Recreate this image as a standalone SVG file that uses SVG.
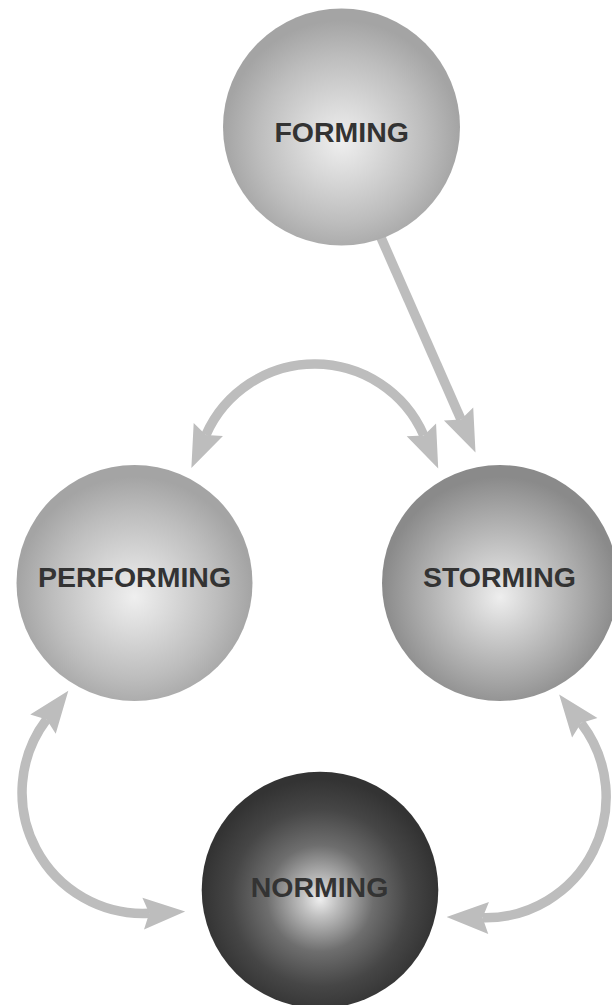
<svg xmlns="http://www.w3.org/2000/svg" width="612" height="1005" viewBox="0 0 612 1005">
  <style>
    .conn { fill: none; stroke: #bdbdbd; stroke-width: 9.5; }
    .label { font-family: "Liberation Sans", Arial, Helvetica, sans-serif; font-weight: bold; font-size: 28.5px; fill: #333333; text-anchor: middle; }
  </style>
  <defs>
    <marker id="head" markerUnits="userSpaceOnUse" viewBox="-8 -18 46 36" refX="0" refY="0" markerWidth="46" markerHeight="36" orient="auto-start-reverse">
      <path d="M0,0 L-6,-16 L36,0 L-6,16 Z" fill="#bdbdbd"/>
    </marker>
    <radialGradient id="gLight" cx="0.5" cy="0.55" r="0.5" fx="0.5" fy="0.56">
      <stop offset="0" stop-color="#efefef"/>
      <stop offset="0.3" stop-color="#dadada"/>
      <stop offset="0.7" stop-color="#bdbdbd"/>
      <stop offset="1" stop-color="#a4a4a4"/>
    </radialGradient>
    <radialGradient id="gMid" cx="0.5" cy="0.55" r="0.5" fx="0.5" fy="0.56">
      <stop offset="0" stop-color="#eeeeee"/>
      <stop offset="0.3" stop-color="#cfcfcf"/>
      <stop offset="0.7" stop-color="#a8a8a8"/>
      <stop offset="1" stop-color="#8a8a8a"/>
    </radialGradient>
    <radialGradient id="gDark" cx="0.5" cy="0.53" r="0.5" fx="0.5" fy="0.54">
      <stop offset="0" stop-color="#eeeeee"/>
      <stop offset="0.15" stop-color="#c0c0c0"/>
      <stop offset="0.45" stop-color="#6e6e6e"/>
      <stop offset="0.75" stop-color="#464646"/>
      <stop offset="1" stop-color="#333333"/>
    </radialGradient>
  </defs>

  <g id="connectors">
    <path class="conn" d="M378.5,232 L461,419.5" marker-end="url(#head)"/>
    <path class="conn" d="M205.9,435 A119 119 0 0 1 423.8,435.4" marker-start="url(#head)" marker-end="url(#head)"/>
    <path class="conn" d="M46.6,719.4 A121 121 0 0 0 149.2,913.3" marker-start="url(#head)" marker-end="url(#head)"/>
    <path class="conn" d="M581.1,723.1 A121 121 0 0 1 482.6,917.8" marker-start="url(#head)" marker-end="url(#head)"/>
  </g>

  <g id="forming">
    <circle cx="341.5" cy="127" r="118.5" fill="url(#gLight)"/>
    <text class="label" x="341.7" y="141.7">FORMING</text>
  </g>
  <g id="performing">
    <circle cx="134.5" cy="583" r="118" fill="url(#gLight)"/>
    <text class="label" x="134.5" y="587">PERFORMING</text>
  </g>
  <g id="storming">
    <circle cx="500" cy="583" r="118" fill="url(#gMid)"/>
    <text class="label" x="499.5" y="586.7">STORMING</text>
  </g>
  <g id="norming">
    <circle cx="320" cy="890" r="118.3" fill="url(#gDark)"/>
    <text class="label" x="319.5" y="897.3">NORMING</text>
  </g>
</svg>
